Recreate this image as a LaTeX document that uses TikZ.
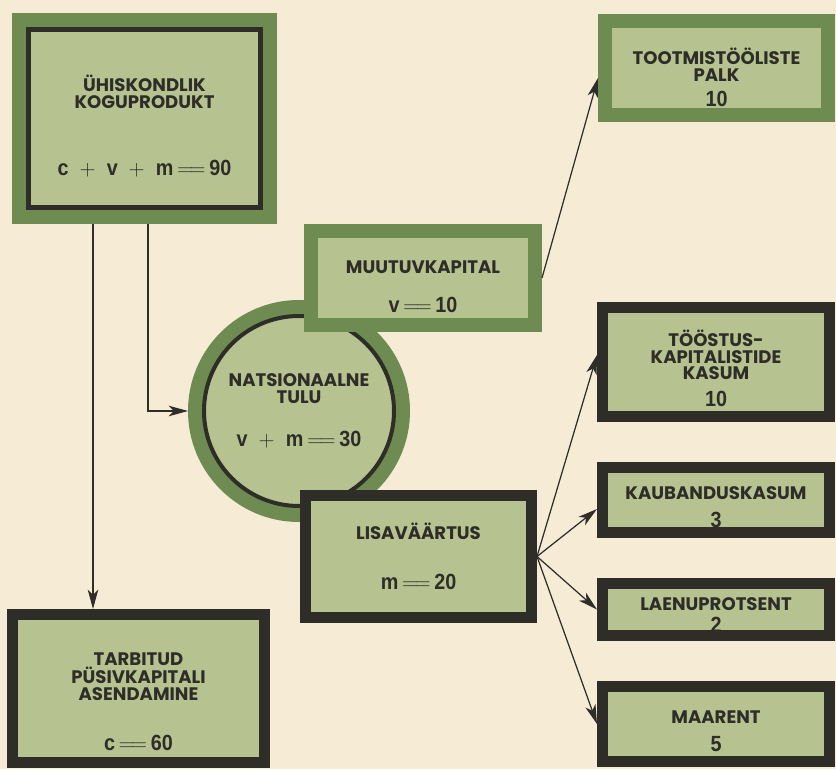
\documentclass[tikz,border=0pt]{standalone}
\usepackage{fontspec}
\setmainfont{Poppins}
\newfontfamily\numfont[FakeStretch=0.9]{Liberation Sans}
\usetikzlibrary{arrows.meta,positioning}
\definecolor{paper}{HTML}{F6EBD5}
\definecolor{leaf}{HTML}{6E8B52}
\definecolor{sage}{HTML}{B6C391}
\definecolor{ink}{HTML}{2E2D28}
\newcommand{\amount}[1]{{\numfont\bfseries\fontsize{12.5}{12.5}\selectfont #1}}
\newcommand{\eqlong}{\mathrel{=\joinrel=}}
\newcommand{\lift}[1][16pt]{\rule{0pt}{#1}}

\begin{document}
\begin{tikzpicture}[
  node distance=0.8cm,
  every node/.style={font=\fontsize{10.3}{9.4}\selectfont\bfseries, text=ink, align=center, inner sep=0pt},
  greenbox/.style={draw=leaf, fill=sage, line width=0.28cm},
  darkbox/.style={draw=ink, fill=sage, line width=0.22cm},
  framedbox/.style={draw=ink, fill=sage, line width=0.1cm, outer sep=0.33cm,
    preaction={draw=leaf, line width=0.66cm}},
  ringnode/.style={circle, draw=ink, fill=sage, line width=0.08cm, minimum size=3.8cm, outer sep=0.32cm,
    preaction={draw=leaf, line width=0.64cm}},
  arr/.style={draw=ink, line width=0.7pt, -{Stealth[length=11pt,width=6pt,inset=3pt]}},
]

\fill[paper] (0,0) rectangle (16.72,15.38);

% left column
\node[framedbox, minimum width=4.64cm, minimum height=3.56cm] (produkt) at (2.89,13.01)
  {\lift[18pt]ÜHISKONDLIK\\KOGUPRODUKT\\[29pt]\amount{c\enspace$+$\enspace v\enspace$+$\enspace m\,$\eqlong$\,90}};
\node[darkbox, minimum width=5.04cm, minimum height=2.96cm] (pusiv) at (2.77,1.61)
  {\lift[22pt]TARBITUD\\PÜSIVKAPITALI\\ASENDAMINE\\[19pt]\amount{c\,$\eqlong$\,60}};

% middle
\node[ringnode] (tulu) at (5.98,7.16)
  {NATSIONAALNE\\TULU\\[15pt]\amount{v\enspace$+$\enspace m\,$\eqlong$\,30}};
\node[greenbox, minimum width=4.48cm, minimum height=1.88cm] (muutuv) at (8.46,9.82)
  {\lift[17.5pt]MUUTUVKAPITAL\\[13pt]\amount{v\,$\eqlong$\,10}};
\node[darkbox, minimum width=4.52cm, minimum height=2.44cm] (lisa) at (8.37,4.25)
  {LISAVÄÄRTUS\\[19pt]\amount{m\,$\eqlong$\,20}};

% right column
\node[greenbox, minimum width=4.46cm, minimum height=1.88cm] (palk) at (14.33,14.02)
  {\lift[20pt]TOOTMISTÖÖLISTE\\PALK\\[5pt]\amount{10}};
\node[darkbox, minimum width=4.54cm, minimum height=2.18cm] (toostus) at (14.32,8.14)
  {\lift[17pt]TÖÖSTUS-\\KAPITALISTIDE\\KASUM\\[6pt]\amount{10}};
\node[darkbox, minimum width=4.54cm, minimum height=1.30cm, below=of toostus] (kaubandus)
  {\lift[15.5pt]KAUBANDUSKASUM\\[7pt]\amount{3}};
\node[darkbox, minimum width=4.54cm, minimum height=1.04cm, below=of kaubandus] (laen)
  {\lift[14pt]LAENUPROTSENT\\[3pt]\amount{2}};
\node[darkbox, minimum width=4.54cm, minimum height=1.50cm, below=of laen] (maarent)
  {\lift[15.5pt]MAARENT\\[6pt]\amount{5}};

\coordinate (split) at ([xshift=-1.03cm]produkt.south);

\draw[arr] (split) -- (split |- pusiv.north);
\draw[arr] ([xshift=0.07cm]produkt.south) |- (tulu.west);
\draw[arr] (muutuv.east) -- ([yshift=-0.2cm]palk.west);
\draw[arr] (lisa.east) -- ([yshift=0.14cm]toostus.west);
\draw[arr] (lisa.east) -- ([yshift=-0.18cm]kaubandus.west);
\draw[arr] (lisa.east) -- (laen.west);
\draw[arr] (lisa.east) -- (maarent.west);

\end{tikzpicture}
\end{document}
